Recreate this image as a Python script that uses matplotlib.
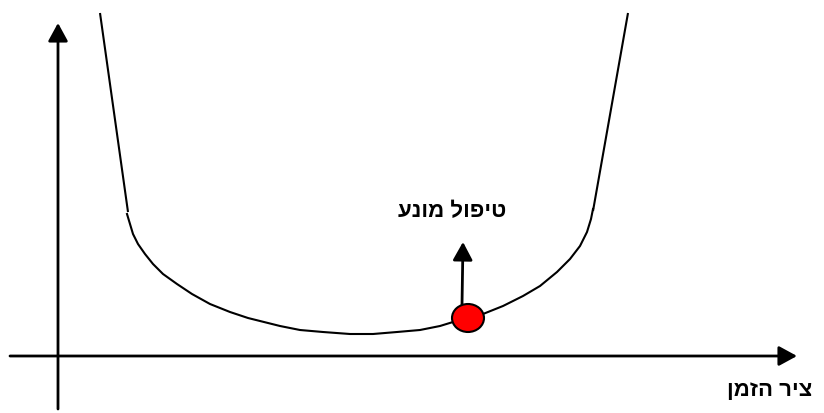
#!/usr/bin/env python3
# -*- coding: utf-8 -*-

import matplotlib
matplotlib.use('Agg')
import matplotlib.pyplot as plt
from matplotlib.patches import Ellipse

# bathtub curve (pixel coords, y downwards)
left_x = [100, 128]
left_y = [14, 213]
bottom_x = [127, 130, 133, 138, 145, 153, 163, 177, 192, 210, 230, 248, 260, 280, 300, 323,
            350, 373, 397, 420, 440, 453, 468, 483, 503, 523, 540, 557, 570, 580, 587, 591, 593]
bottom_y = [215, 225, 235, 245, 255, 265, 275, 285, 295, 305, 313, 319, 322, 327, 331, 333,
            335, 335, 333, 331, 327, 323, 319, 315, 307, 297, 287, 273, 260, 247, 233, 220, 210]
right_x = [593, 628]
right_y = [212, 14]

marker_xy = (468, 319)
label_marker = "טיפול מונע"
label_time = "ציר הזמן"

HEB = ['Liberation Sans', 'DejaVu Sans']


def rtl(s):
    # matplotlib has no bidi support, draw hebrew reversed
    return s[::-1]


def arrow(ax, tail, tip):
    ax.annotate('', xy=tip, xytext=tail,
                arrowprops=dict(arrowstyle='-|>,head_length=0.55,head_width=0.3',
                                mutation_scale=20, color='black', lw=2,
                                shrinkA=0, shrinkB=0))


fig = plt.figure(figsize=(8.24, 4.14), dpi=100)
ax = fig.add_axes([0, 0, 1, 1])
ax.set_xlim(0, 824)
ax.set_ylim(414, 0)
ax.axis('off')

# axes
arrow(ax, (58, 410), (58, 24))
arrow(ax, (10, 357), (797, 357))

# curve
ax.plot(left_x, left_y, color='black', lw=1.5, solid_capstyle='butt')
ax.plot(bottom_x, bottom_y, color='black', lw=1.5, solid_joinstyle='round')
ax.plot(right_x, right_y, color='black', lw=1.5, solid_capstyle='butt')

# preventive treatment marker
arrow(ax, (462, 306), (463, 243))
ax.add_patch(Ellipse(marker_xy, 32, 28, facecolor='red', edgecolor='black', lw=1.5, zorder=5))

ax.text(452, 212, rtl(label_marker), family=HEB, fontweight='bold', fontsize=16,
        ha='center', va='center')
ax.text(770, 391, rtl(label_time), family=HEB, fontweight='bold', fontsize=16,
        ha='center', va='center')

fig.savefig('out.png', dpi=100)
